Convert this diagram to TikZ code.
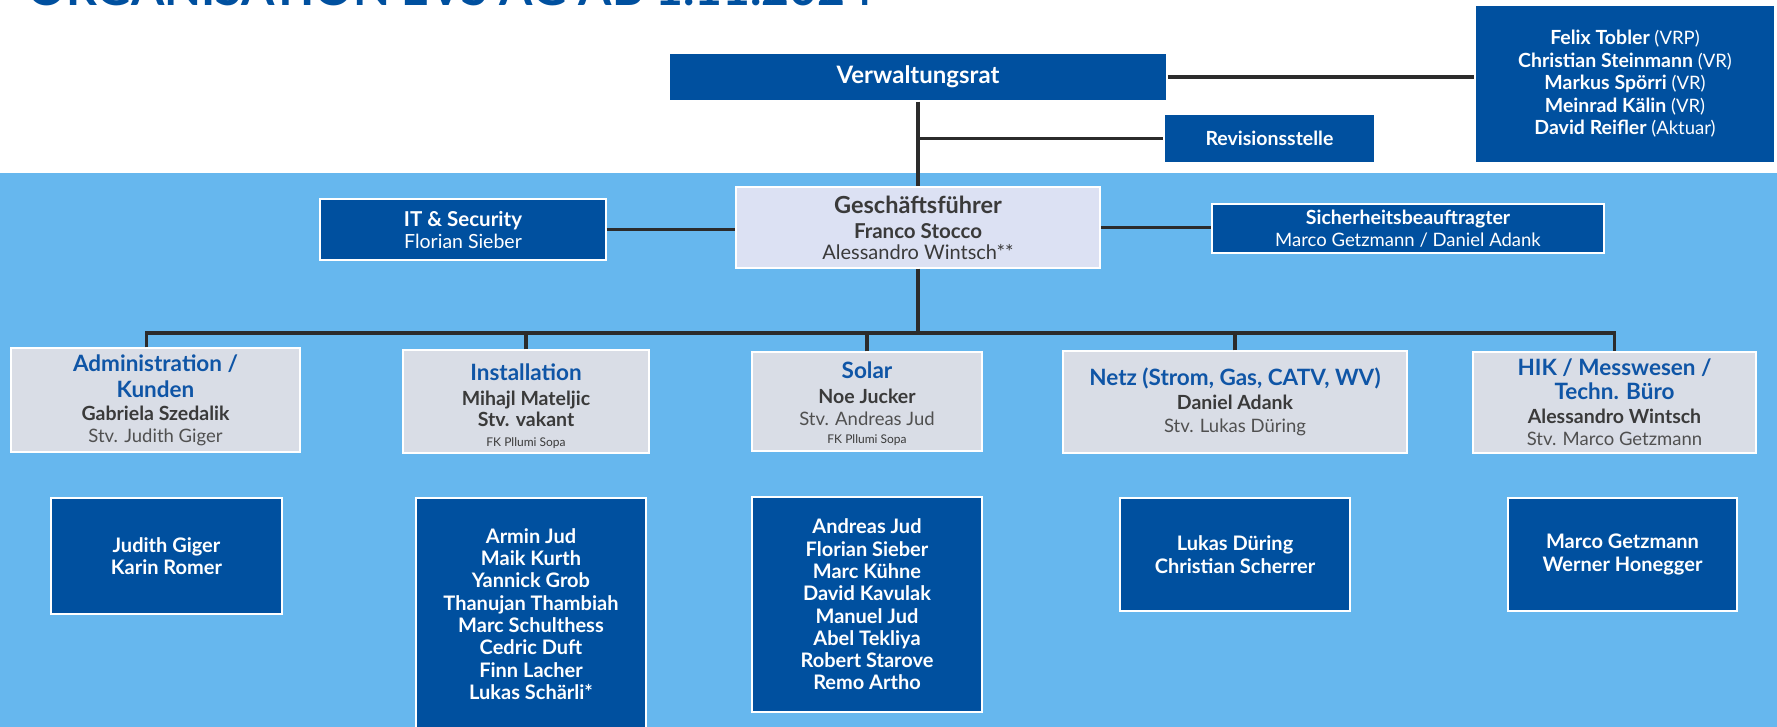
\documentclass[tikz,border=0pt]{standalone}
\usepackage{fontspec}
\setmainfont{Lato}
\definecolor{dblue}{HTML}{00509F}
\definecolor{bgblue}{HTML}{66B7EE}
\definecolor{gffill}{HTML}{DCE1F3}
\definecolor{lfill}{HTML}{D9DDE6}
\definecolor{tblue}{HTML}{0F55A6}
\definecolor{dgrey}{HTML}{3A3A3A}
\definecolor{mgrey}{HTML}{505050}
\definecolor{linec}{HTML}{2B2B2B}
\newcommand\lvtitle[1]{{\fontsize{22.5}{24}\selectfont\bfseries\color{tblue}#1}}
\newcommand\lvname[1]{{\fontsize{19.5}{22}\selectfont\bfseries #1}}
\newcommand\fksmall[1]{{\fontsize{12}{13}\selectfont #1}}
\tikzset{
  box/.style={draw=white, line width=1.5pt, inner sep=0pt, align=center,
    font=\fontsize{18.5}{22}\selectfont},
  darkbox/.style={box, fill=dblue, text=white},
  lightbox/.style={box, fill=lfill, text=dgrey},
  teambox/.style={darkbox, font=\fontsize{20}{22.3}\selectfont\bfseries},
  conn/.style={draw=linec, line width=3.5pt},
  sz/.style 2 args={minimum width=#1pt, minimum height=#2pt}
}
\begin{document}
\begin{tikzpicture}[x=1pt,y=-1pt]
\useasboundingbox (0,0) rectangle (1777,727);
\clip (0,0) rectangle (1777,727);
\fill[white] (0,0) rectangle (1777,173);
\fill[bgblue] (0,173) rectangle (1777,727);

\node[anchor=base east, text=dblue, font=\fontsize{48}{50}\selectfont\bfseries, inner sep=0pt] (title) at (873,5.5) {ORGANISATION EVS AG AB 1.11.2024};

% top level
\node[darkbox, sz={498}{48}, font=\fontsize{24}{26}\selectfont\bfseries] (vr) at (918,77) {Verwaltungsrat};
\node[darkbox, sz={300}{158}, font=\fontsize{18.5}{22.5}\selectfont] (vrlist) at (1625,84)
  {\lvname{Felix Tobler} (VRP)\\\lvname{Christian Steinmann} (VR)\\\lvname{Markus Spörri} (VR)\\\lvname{Meinrad Kälin} (VR)\\\lvname{David Reifler} (Aktuar)};
\node[darkbox, sz={211}{49}, font=\fontsize{19.5}{22}\selectfont\bfseries] (rev) at (1269.5,138.5) {Revisionsstelle};

\node[box, fill=gffill, text=dgrey, sz={364}{81}, font=\fontsize{20}{21}\selectfont] (gf) at (918,227.5)
  {{\fontsize{23.5}{25}\selectfont\bfseries Geschäftsführer}\\[4pt]{\fontsize{20.5}{22}\selectfont\bfseries Franco Stocco}\\Alessandro Wintsch**};
\node[darkbox, sz={286}{61}, font=\fontsize{19.5}{22}\selectfont] (it) at (463,229.5)
  {{\fontsize{20.5}{22}\selectfont\bfseries IT \& Security}\\Florian Sieber};
\node[darkbox, sz={392}{49}, font=\fontsize{18.5}{22}\selectfont] (sich) at (1408,228.5)
  {\lvname{Sicherheitsbeauftragter}\\Marco Getzmann / Daniel Adank};

% level 2
\node[lightbox, sz={289}{104}] (admin) at (155.5,400)
  {\lvtitle{Administration /}\\[4pt]\lvtitle{Kunden}\\[1pt]\lvname{Gabriela Szedalik}\\{\color{mgrey}Stv. Judith Giger}};
\node[lightbox, sz={246}{103}] (inst) at (526,401.5)
  {\rule{0pt}{26pt}\lvtitle{Installation}\\[3pt]\lvname{Mihajl Mateljic}\\[-1pt]\lvname{Stv. vakant}\\[-2pt]\fksmall{FK Pllumi Sopa}};
\node[lightbox, sz={230}{99}] (solar) at (867,401.5)
  {\rule{0pt}{22pt}\lvtitle{Solar}\\[3pt]\lvname{Noe Jucker}\\{\color{mgrey}Stv. Andreas Jud}\\[-4pt]\fksmall{FK Pllumi Sopa}};
\node[lightbox, sz={344}{102}] (netz) at (1235,402)
  {\lvtitle{Netz (Strom, Gas, CATV, WV)}\\[2pt]\lvname{Daniel Adank}\\[1pt]{\color{mgrey}Stv. Lukas Düring}};
\node[lightbox, sz={283}{101}] (hik) at (1614.5,402.5)
  {\lvtitle{HIK / Messwesen /}\\[2pt]\lvtitle{Techn. Büro}\\[2pt]\lvname{Alessandro Wintsch}\\{\color{mgrey}Stv. Marco Getzmann}};

% level 3
\node[teambox, sz={231}{116}] (tadmin) at (166.5,556)
  {Judith Giger\\Karin Romer};
\node[teambox, sz={230}{232}] (tinst) at (531,614)
  {Armin Jud\\Maik Kurth\\Yannick Grob\\Thanujan Thambiah\\Marc Schulthess\\Cedric Duft\\Finn Lacher\\Lukas Schärli*};
\node[teambox, sz={230}{215}] (tsolar) at (867,604.5)
  {Andreas Jud\\Florian Sieber\\Marc Kühne\\David Kavulak\\Manuel Jud\\Abel Tekliya\\Robert Starove\\Remo Artho};
\node[teambox, sz={230}{113}] (tnetz) at (1235,554.5)
  {Lukas Düring\\Christian Scherrer};
\node[teambox, sz={229}{113}] (thik) at (1622.5,554.5)
  {Marco Getzmann\\Werner Honegger};

% connectors
\coordinate (bus) at (918,333);
\draw[conn] (vr.east) -- (vr.east -| vrlist.west);
\draw[conn] (vr.south) -- (gf.north);
\draw[conn] (vr.south |- rev.west) -- (rev.west);
\draw[conn] (it.east) -- (it.east -| gf.west);
\draw[conn] (gf.east) -- (gf.east -| sich.west);
\draw[conn] (gf.south) -- (bus);
\draw[conn] ([xshift=-9pt]admin.north) |- (hik.north |- bus) -- (hik.north);
\draw[conn] (inst.north) -- (inst.north |- bus);
\draw[conn] (solar.north) -- (solar.north |- bus);
\draw[conn] (netz.north) -- (netz.north |- bus);
\end{tikzpicture}
\end{document}
